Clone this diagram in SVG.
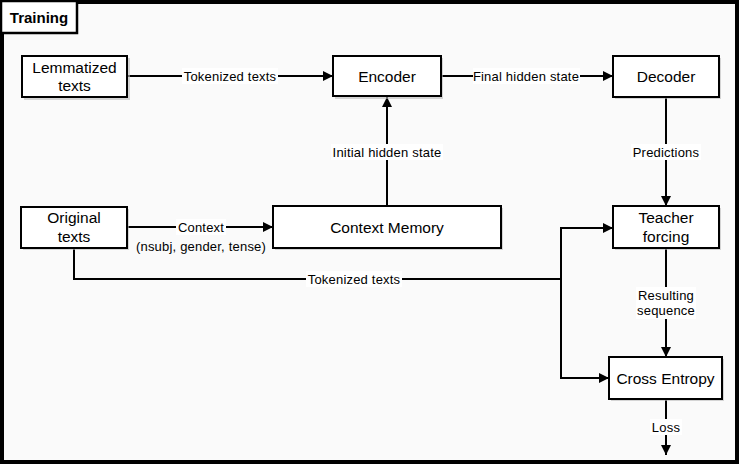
<svg xmlns="http://www.w3.org/2000/svg" width="739" height="464" viewBox="0 0 739 464">
<style>
.box{fill:#fff;stroke:#000;stroke-width:2}
.sh{fill:#bbb;opacity:0.6}
.nt{font-family:"Liberation Sans",Arial,sans-serif;font-size:15.5px;fill:#000;text-anchor:middle;dominant-baseline:central}
.el{font-family:"Liberation Sans",Arial,sans-serif;font-size:13px;letter-spacing:0.2px;fill:#000;text-anchor:middle;dominant-baseline:central}
.lb{fill:#fff}
.ln{fill:none;stroke:#000;stroke-width:2}
</style>
<defs>
<marker id="ah" viewBox="0 0 10 10" refX="10" refY="5" markerWidth="10" markerHeight="10" markerUnits="userSpaceOnUse" orient="auto">
<path d="M0,0 L10,5 L0,10 z" fill="#000"/>
</marker>
</defs>
<rect x="2" y="2" width="735" height="460" fill="#fafafa" stroke="#000" stroke-width="4"/>
<g id="title">
<rect x="1" y="1" width="76" height="32" fill="#fff" stroke="#000" stroke-width="2.5"/>
<text x="39" y="17" font-family="Liberation Sans,Arial,sans-serif" font-size="15px" font-weight="bold" text-anchor="middle" dominant-baseline="central">Training</text>
</g>
<g id="connectors">
<line class="ln" x1="128" y1="76" x2="333" y2="76" marker-end="url(#ah)"/>
<rect class="lb" x="182" y="68" width="96" height="16"/>
<text class="el" x="230" y="76">Tokenized texts</text>
<line class="ln" x1="441" y1="76" x2="613" y2="76" marker-end="url(#ah)"/>
<rect class="lb" x="473" y="68" width="107" height="16"/>
<text class="el" x="526" y="76">Final hidden state</text>
<line class="ln" x1="387" y1="206" x2="387" y2="97" marker-end="url(#ah)"/>
<rect class="lb" x="331" y="144" width="112" height="16"/>
<text class="el" x="387" y="152">Initial hidden state</text>
<line class="ln" x1="666" y1="97" x2="666" y2="206" marker-end="url(#ah)"/>
<rect class="lb" x="631" y="144" width="70" height="16"/>
<text class="el" x="666" y="152">Predictions</text>
<line class="ln" x1="127" y1="227" x2="273" y2="227" marker-end="url(#ah)"/>
<rect class="lb" x="176" y="219" width="50" height="16"/>
<text class="el" x="201" y="227">Context</text>
<text class="el" x="201" y="246">(nsubj, gender, tense)</text>
<polyline class="ln" points="74,248 74,279 561,279"/>
<polyline class="ln" points="561,378 561,228 613,228" marker-end="url(#ah)"/>
<polyline class="ln" points="561,279 561,378 609,378" marker-end="url(#ah)"/>
<rect class="lb" x="306" y="271" width="96" height="16"/>
<text class="el" x="354" y="279">Tokenized texts</text>
<line class="ln" x1="666" y1="248" x2="666" y2="357" marker-end="url(#ah)"/>
<rect class="lb" x="636" y="287" width="60" height="32"/>
<text class="el" x="666" y="295">Resulting</text>
<text class="el" x="666" y="310">sequence</text>
<line class="ln" x1="666" y1="399" x2="666" y2="455" marker-end="url(#ah)"/>
<rect class="lb" x="650" y="419" width="32" height="16"/>
<text class="el" x="666" y="427">Loss</text>
</g>
<g id="lemmatized">
<rect class="sh" x="24" y="58" width="106" height="42"/>
<rect class="box" x="22" y="56" width="105" height="41"/>
<text class="nt" x="74.5" y="67">Lemmatized</text>
<text class="nt" x="74.5" y="85">texts</text>
</g>
<g id="encoder">
<rect class="sh" x="335" y="58" width="108" height="41"/>
<rect class="box" x="333" y="56" width="108" height="40"/>
<text class="nt" x="387" y="76">Encoder</text>
</g>
<g id="decoder">
<rect class="sh" x="615" y="58" width="106" height="41"/>
<rect class="box" x="613" y="56" width="106" height="41"/>
<text class="nt" x="666" y="76">Decoder</text>
</g>
<g id="original">
<rect class="sh" x="23" y="209" width="106" height="41"/>
<rect class="box" x="21" y="207" width="106" height="41"/>
<text class="nt" x="74" y="217">Original</text>
<text class="nt" x="74" y="236">texts</text>
</g>
<g id="contextmemory">
<rect class="sh" x="275" y="208" width="228" height="42"/>
<rect class="box" x="273" y="206" width="228" height="42"/>
<text class="nt" x="387" y="227">Context Memory</text>
</g>
<g id="teacher">
<rect class="sh" x="615" y="208" width="106" height="42"/>
<rect class="box" x="613" y="206" width="106" height="42"/>
<text class="nt" x="666" y="217">Teacher</text>
<text class="nt" x="666" y="236">forcing</text>
</g>
<g id="crossentropy">
<rect class="sh" x="611" y="359" width="113" height="42"/>
<rect class="box" x="609" y="357" width="113" height="42"/>
<text class="nt" x="665.5" y="378">Cross Entropy</text>
</g>
</svg>
